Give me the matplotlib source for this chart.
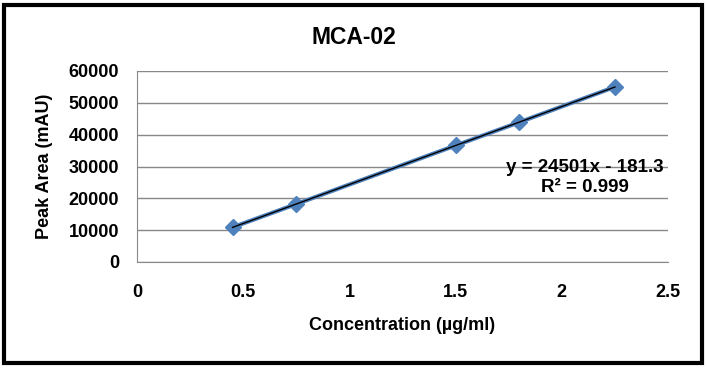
import numpy as np
import matplotlib.pyplot as plt
from matplotlib.patches import Rectangle

# values
conc = [0.45, 0.75, 1.5, 1.8, 2.25]
area = [10900, 18200, 36600, 43900, 55000]
x_ticks = [0, 0.5, 1, 1.5, 2, 2.5]
y_ticks = [0, 10000, 20000, 30000, 40000, 50000, 60000]

plt.rcParams['font.family'] = ['Liberation Sans', 'DejaVu Sans']
plt.rcParams['font.weight'] = 'bold'

fig = plt.figure(figsize=(7.07, 3.69), dpi=100)
ax = fig.add_axes([137 / 707, 1 - 262 / 369, 531 / 707, 191 / 369])

ax.plot(conc, area, color="#4F81BD", linewidth=3, marker="D", markersize=8,
        markerfacecolor="#4F81BD", markeredgecolor="#4F81BD", zorder=3)

# linear trendline
slope, intercept = np.polyfit(conc, area, 1)
xs = np.array([min(conc), max(conc)])
ax.plot(xs, slope * xs + intercept, color="black", linewidth=1, zorder=4)

ax.set_xlim(0, 2.5)
ax.set_ylim(0, 60000)
ax.set_xticks(x_ticks)
ax.set_xticklabels(["0", "0.5", "1", "1.5", "2", "2.5"])
ax.set_yticks(y_ticks)
ax.set_yticklabels([str(v) for v in y_ticks])
ax.tick_params(length=0, labelsize=13)
ax.tick_params(axis='y', pad=13)
ax.tick_params(axis='x', pad=16)
for lab in ax.get_xticklabels() + ax.get_yticklabels():
    lab.set_fontweight('bold')

ax.grid(axis='y', color="#888888", linewidth=1)
ax.set_axisbelow(True)
for s in ["top", "right"]:
    ax.spines[s].set_visible(False)
ax.spines["left"].set_color("#888888")
ax.spines["bottom"].set_color("#888888")

ax.set_xlabel("Concentration (µg/ml)", fontsize=13, fontweight='bold', labelpad=11)
ax.set_ylabel("Peak Area (mAU)", fontsize=13, fontweight='bold', labelpad=11)
fig.text(0.5, 1 - 37 / 369, "MCA-02", ha="center", va="center", fontsize=16.5, fontweight='bold')

ax.text(585 / 707, 1 - 168 / 369, "y = 24501x - 181.3", transform=fig.transFigure,
        ha="center", va="center", fontsize=13.5, fontweight='bold')
ax.text(585 / 707, 1 - 188 / 369, "R² = 0.999", transform=fig.transFigure,
        ha="center", va="center", fontsize=13.5, fontweight='bold')

fig.patches.append(Rectangle((4 / 707, 6 / 369), 698 / 707, 358 / 369,
                             transform=fig.transFigure, fill=False,
                             edgecolor="black", linewidth=3))

fig.savefig("out.png", dpi=100)
